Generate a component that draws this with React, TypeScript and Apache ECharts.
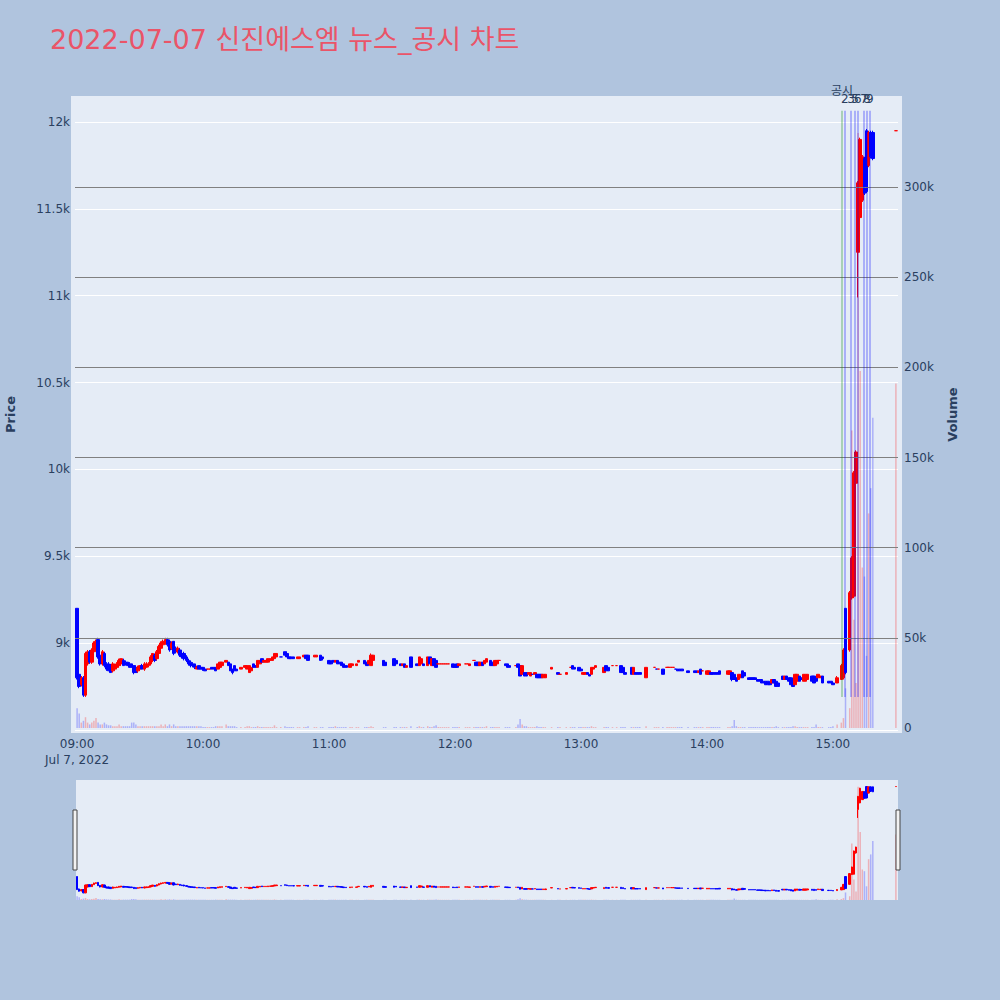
import React, { useEffect, useRef } from 'react';
import * as echarts from 'echarts';

const TITLE = '2022-07-07 신진에스엠 뉴스_공시 차트';
const DAY_LABEL = 'Jul 7, 2022';
const FONT = '"DejaVu Sans", "Noto Sans CJK KR", sans-serif';

const COLORS = {
  PAPER: '#b0c4de',
  PLOT: '#e5ecf6',
  TEXT: '#2a3f5f',
  TITLE: '#ea5468',
  UP: '#ff0000',
  DOWN: '#0000ff',
  UP_VOL: 'rgba(255,0,0,0.25)',
  DOWN_VOL: 'rgba(0,0,255,0.25)',
  VOL_GRID: '#808080',
};

// 1-minute candles (time, open, close, low, high, volume in thousands)
const TIMES = [
  '09:00', '09:01', '09:02', '09:03', '09:04', '09:05', '09:06', '09:07', '09:08', '09:09',
  '09:10', '09:11', '09:12', '09:13', '09:14', '09:15', '09:16', '09:17', '09:18', '09:19',
  '09:20', '09:21', '09:22', '09:23', '09:24', '09:25', '09:26', '09:27', '09:28', '09:29',
  '09:30', '09:31', '09:32', '09:33', '09:34', '09:35', '09:36', '09:37', '09:38', '09:39',
  '09:40', '09:41', '09:42', '09:43', '09:44', '09:45', '09:46', '09:47', '09:48', '09:49',
  '09:50', '09:51', '09:52', '09:53', '09:54', '09:55', '09:56', '09:57', '09:58', '09:59',
  '10:00', '10:01', '10:02', '10:03', '10:04', '10:05', '10:06', '10:07', '10:08', '10:09',
  '10:11', '10:12', '10:13', '10:14', '10:15', '10:16', '10:18', '10:20', '10:21', '10:22',
  '10:23', '10:24', '10:25', '10:26', '10:27', '10:28', '10:29', '10:30', '10:31', '10:32',
  '10:33', '10:34', '10:35', '10:37', '10:39', '10:40', '10:41', '10:42', '10:43', '10:45',
  '10:46', '10:48', '10:49', '10:50', '10:53', '10:54', '10:56', '10:57',
  '11:00', '11:01', '11:02', '11:03', '11:04', '11:05', '11:06', '11:07', '11:08', '11:10',
  '11:11', '11:13', '11:14', '11:17', '11:18', '11:19', '11:20', '11:21', '11:26', '11:27',
  '11:31', '11:32', '11:34', '11:35', '11:36', '11:37', '11:39', '11:42', '11:43', '11:44',
  '11:45', '11:47', '11:48', '11:49', '11:50', '11:51', '11:52', '11:53', '11:54', '11:55',
  '11:56', '11:57', '11:59',
  '12:00', '12:01', '12:02', '12:05', '12:06', '12:07', '12:09', '12:10', '12:11', '12:12',
  '12:13', '12:14', '12:15', '12:17', '12:18', '12:19', '12:20', '12:21', '12:24', '12:25',
  '12:26', '12:29', '12:30', '12:31', '12:32', '12:33', '12:34', '12:35', '12:36', '12:37',
  '12:38', '12:39', '12:40', '12:41', '12:42', '12:43', '12:46', '12:49', '12:50', '12:53',
  '12:55', '12:56', '12:57', '12:59',
  '13:00', '13:01', '13:02', '13:03', '13:04', '13:05', '13:06', '13:07', '13:11', '13:12',
  '13:13', '13:15', '13:17', '13:19', '13:20', '13:21', '13:24', '13:25', '13:26', '13:27',
  '13:28', '13:31', '13:35', '13:36', '13:37', '13:39', '13:41', '13:42', '13:43', '13:44',
  '13:45', '13:46', '13:47', '13:48', '13:51', '13:54', '13:55', '13:56', '13:57', '13:58',
  '14:00', '14:01', '14:02', '14:03', '14:04', '14:05', '14:06', '14:10', '14:11', '14:12',
  '14:13', '14:14', '14:15', '14:16', '14:17', '14:18', '14:20', '14:21', '14:22', '14:23',
  '14:24', '14:25', '14:26', '14:27', '14:28', '14:29', '14:30', '14:31', '14:32', '14:33',
  '14:34', '14:36', '14:37', '14:38', '14:39', '14:40', '14:41', '14:42', '14:43', '14:44',
  '14:45', '14:46', '14:47', '14:48', '14:50', '14:51', '14:52', '14:53', '14:54', '14:55',
  '14:58', '14:59',
  '15:00', '15:02', '15:04', '15:05', '15:06', '15:08', '15:09', '15:10', '15:11', '15:12',
  '15:13', '15:14', '15:15', '15:16', '15:17', '15:18', '15:19', '15:30',
];

const OPEN = [
  9200, 8820, 8760, 8800, 8700, 8880, 8950, 8890, 8950, 8990,
  9020, 8930, 8880, 8940, 8880, 8880, 8870, 8840, 8850, 8860,
  8870, 8880, 8900, 8890, 8890, 8880, 8880, 8870, 8860, 8840,
  8850, 8870, 8850, 8860, 8870, 8880, 8900, 8930, 8910, 8940,
  8970, 8990, 9000, 9020, 9010, 8970, 9010, 8970, 8950, 8960,
  8940, 8940, 8920, 8900, 8890, 8880, 8880, 8850, 8870, 8860,
  8860, 8850, 8850, 8850, 8860, 8860, 8860, 8850, 8860, 8870,
  8890, 8890, 8880, 8850, 8870, 8850, 8850, 8860, 8850, 8830,
  8840, 8880, 8870, 8860, 8880, 8910, 8890, 8890, 8890, 8900,
  8900, 8910, 8920, 8920, 8950, 8940, 8920, 8920, 8920, 8910,
  8910, 8920, 8930, 8930, 8920, 8920, 8930, 8920,
  8900, 8890, 8900, 8890, 8900, 8890, 8890, 8880, 8870, 8860,
  8870, 8870, 8890, 8900, 8890, 8880, 8870, 8900, 8900, 8890,
  8910, 8900, 8880, 8870, 8880, 8860, 8920, 8880, 8870, 8880,
  8880, 8870, 8920, 8870, 8910, 8900, 8880, 8880, 8880, 8880,
  8880, 8880, 8880,
  8870, 8880, 8870, 8880, 8880, 8870, 8900, 8890, 8890, 8870,
  8890, 8880, 8890, 8900, 8890, 8870, 8880, 8900, 8880, 8880,
  8870, 8870, 8880, 8870, 8820, 8830, 8830, 8820, 8810, 8820,
  8820, 8820, 8820, 8820, 8800, 8800, 8850, 8830, 8820, 8820,
  8860, 8870, 8860, 8860,
  8850, 8820, 8820, 8830, 8820, 8820, 8850, 8860, 8830, 8870,
  8860, 8870, 8870, 8870, 8860, 8830, 8860, 8820, 8830, 8830,
  8830, 8800, 8860, 8850, 8850, 8850, 8860, 8860, 8860, 8860,
  8850, 8850, 8850, 8850, 8840, 8840, 8840, 8830, 8850, 8840,
  8820, 8820, 8830, 8830, 8830, 8830, 8840, 8820, 8820, 8830,
  8820, 8800, 8790, 8800, 8840, 8830, 8800, 8800, 8800, 8800,
  8790, 8790, 8790, 8780, 8780, 8780, 8770, 8770, 8790, 8780,
  8770, 8810, 8790, 8810, 8800, 8800, 8790, 8760, 8780, 8810,
  8800, 8780, 8780, 8790, 8810, 8810, 8800, 8800, 8800, 8810,
  8780, 8780,
  8770, 8770, 8790, 8800, 9200, 8960, 9260, 9270, 9920, 11250,
  11450, 11550, 11790, 11950, 11750, 11940, 11940, 11950,
];

const CLOSE = [
  8800, 8750, 8800, 8700, 8940, 8950, 8890, 8960, 9000, 9010,
  8920, 8880, 8950, 8870, 8850, 8840, 8830, 8880, 8870, 8880,
  8900, 8910, 8870, 8880, 8870, 8860, 8860, 8830, 8830, 8860,
  8870, 8850, 8880, 8880, 8880, 8920, 8940, 8900, 8950, 8980,
  9000, 9010, 9020, 8990, 8960, 9000, 8940, 8950, 8970, 8930,
  8920, 8910, 8900, 8880, 8870, 8870, 8860, 8860, 8850, 8850,
  8850, 8840, 8850, 8850, 8850, 8850, 8840, 8880, 8890, 8890,
  8900, 8870, 8840, 8830, 8840, 8840, 8860, 8870, 8870, 8870,
  8860, 8860, 8860, 8900, 8900, 8890, 8900, 8900, 8910, 8910,
  8920, 8940, 8940, 8920, 8930, 8920, 8910, 8910, 8910, 8920,
  8920, 8930, 8910, 8900, 8930, 8930, 8900, 8910,
  8880, 8880, 8890, 8900, 8880, 8880, 8870, 8860, 8860, 8880,
  8880, 8880, 8900, 8880, 8870, 8900, 8930, 8930, 8870, 8870,
  8870, 8880, 8870, 8880, 8860, 8870, 8860, 8870, 8920, 8910,
  8870, 8920, 8880, 8910, 8870, 8860, 8880, 8880, 8880, 8880,
  8880, 8880, 8860,
  8860, 8860, 8880, 8880, 8880, 8880, 8900, 8870, 8870, 8890,
  8870, 8900, 8910, 8870, 8870, 8900, 8900, 8900, 8870, 8860,
  8860, 8870, 8860, 8810, 8870, 8810, 8810, 8830, 8830, 8820,
  8830, 8800, 8800, 8800, 8820, 8820, 8860, 8820, 8820, 8830,
  8860, 8850, 8850, 8840,
  8840, 8830, 8830, 8820, 8810, 8860, 8860, 8870, 8860, 8840,
  8840, 8870, 8870, 8830, 8830, 8820, 8820, 8860, 8820, 8820,
  8820, 8860, 8860, 8850, 8850, 8820, 8860, 8860, 8860, 8860,
  8850, 8840, 8840, 8840, 8830, 8830, 8830, 8840, 8820, 8840,
  8840, 8840, 8820, 8820, 8820, 8820, 8820, 8840, 8840, 8790,
  8790, 8780, 8820, 8820, 8800, 8810, 8790, 8790, 8790, 8790,
  8780, 8780, 8770, 8770, 8760, 8760, 8760, 8790, 8770, 8750,
  8750, 8790, 8810, 8790, 8780, 8760, 8750, 8820, 8820, 8780,
  8790, 8820, 8820, 8820, 8780, 8770, 8780, 8820, 8810, 8770,
  8770, 8770,
  8760, 8800, 8870, 8960, 8830, 9290, 9490, 9980, 10100, 11650,
  11900, 11800, 11590, 11600, 11940, 11800, 11790, 11950,
];

const LOW = [
  8790, 8740, 8750, 8690, 8690, 8870, 8880, 8880, 8940, 8980,
  8910, 8870, 8870, 8860, 8840, 8840, 8830, 8830, 8850, 8850,
  8860, 8870, 8870, 8870, 8870, 8860, 8860, 8820, 8830, 8830,
  8840, 8850, 8840, 8860, 8860, 8870, 8890, 8890, 8900, 8930,
  8960, 8980, 8990, 8980, 8950, 8960, 8930, 8940, 8940, 8920,
  8910, 8900, 8890, 8870, 8860, 8860, 8850, 8850, 8850, 8850,
  8840, 8840, 8850, 8850, 8850, 8850, 8840, 8850, 8860, 8870,
  8890, 8870, 8840, 8820, 8840, 8840, 8850, 8860, 8850, 8830,
  8840, 8860, 8860, 8860, 8880, 8890, 8890, 8890, 8890, 8900,
  8900, 8910, 8920, 8920, 8930, 8920, 8910, 8910, 8910, 8910,
  8910, 8920, 8910, 8900, 8920, 8920, 8900, 8900,
  8880, 8880, 8890, 8890, 8880, 8880, 8870, 8860, 8860, 8860,
  8870, 8870, 8890, 8880, 8870, 8880, 8870, 8900, 8870, 8870,
  8870, 8880, 8870, 8870, 8860, 8860, 8860, 8870, 8870, 8880,
  8870, 8870, 8880, 8870, 8870, 8860, 8880, 8880, 8880, 8880,
  8880, 8880, 8860,
  8860, 8860, 8870, 8880, 8880, 8870, 8900, 8870, 8870, 8870,
  8870, 8880, 8890, 8870, 8870, 8870, 8880, 8900, 8870, 8860,
  8860, 8870, 8860, 8810, 8820, 8810, 8810, 8820, 8810, 8820,
  8820, 8800, 8800, 8800, 8800, 8800, 8850, 8820, 8820, 8820,
  8860, 8850, 8850, 8840,
  8840, 8820, 8820, 8820, 8810, 8820, 8850, 8860, 8830, 8840,
  8840, 8870, 8870, 8830, 8830, 8820, 8820, 8820, 8820, 8820,
  8820, 8800, 8860, 8850, 8850, 8820, 8860, 8860, 8860, 8860,
  8850, 8840, 8840, 8840, 8830, 8830, 8830, 8830, 8820, 8840,
  8820, 8820, 8820, 8820, 8820, 8820, 8820, 8820, 8820, 8780,
  8790, 8780, 8790, 8800, 8800, 8810, 8790, 8790, 8790, 8790,
  8780, 8780, 8770, 8770, 8760, 8760, 8760, 8770, 8770, 8750,
  8750, 8790, 8790, 8790, 8780, 8760, 8750, 8760, 8780, 8780,
  8790, 8780, 8780, 8790, 8780, 8770, 8780, 8800, 8800, 8770,
  8770, 8770,
  8760, 8770, 8790, 8790, 8820, 8950, 9250, 9260, 9900, 10990,
  11440, 11540, 11580, 11590, 11740, 11790, 11780, 11950,
];

const HIGH = [
  9200, 8830, 8810, 8810, 8950, 8960, 8960, 8970, 9010, 9020,
  9030, 8940, 8960, 8950, 8890, 8890, 8880, 8890, 8880, 8890,
  8910, 8910, 8910, 8900, 8890, 8890, 8880, 8870, 8870, 8870,
  8870, 8880, 8890, 8890, 8890, 8930, 8940, 8940, 8960, 8990,
  9010, 9020, 9030, 9030, 9020, 9010, 9010, 8980, 8980, 8970,
  8950, 8950, 8930, 8910, 8900, 8890, 8880, 8870, 8870, 8860,
  8860, 8850, 8850, 8850, 8860, 8860, 8860, 8880, 8890, 8890,
  8900, 8890, 8880, 8850, 8870, 8850, 8860, 8870, 8870, 8870,
  8860, 8880, 8870, 8900, 8900, 8910, 8900, 8900, 8910, 8910,
  8920, 8940, 8940, 8920, 8950, 8950, 8920, 8920, 8920, 8920,
  8920, 8930, 8930, 8930, 8930, 8930, 8930, 8920,
  8900, 8890, 8900, 8900, 8900, 8890, 8890, 8880, 8870, 8880,
  8880, 8880, 8900, 8900, 8890, 8900, 8940, 8930, 8900, 8890,
  8910, 8900, 8880, 8880, 8880, 8870, 8920, 8880, 8920, 8910,
  8880, 8920, 8920, 8910, 8910, 8900, 8880, 8880, 8880, 8880,
  8880, 8880, 8880,
  8870, 8880, 8880, 8880, 8880, 8880, 8900, 8890, 8890, 8890,
  8890, 8900, 8910, 8900, 8890, 8900, 8900, 8900, 8880, 8880,
  8870, 8870, 8880, 8870, 8870, 8830, 8830, 8830, 8830, 8820,
  8830, 8820, 8820, 8820, 8820, 8820, 8860, 8830, 8820, 8830,
  8860, 8870, 8860, 8860,
  8850, 8830, 8830, 8830, 8820, 8860, 8860, 8870, 8860, 8870,
  8860, 8870, 8870, 8870, 8860, 8830, 8860, 8860, 8830, 8830,
  8830, 8860, 8860, 8850, 8850, 8850, 8860, 8860, 8860, 8860,
  8850, 8850, 8850, 8850, 8840, 8840, 8840, 8840, 8850, 8840,
  8840, 8840, 8830, 8830, 8830, 8830, 8840, 8840, 8840, 8830,
  8820, 8800, 8820, 8820, 8840, 8830, 8800, 8800, 8800, 8800,
  8790, 8790, 8790, 8780, 8780, 8780, 8770, 8790, 8790, 8780,
  8770, 8810, 8810, 8810, 8800, 8800, 8790, 8820, 8820, 8810,
  8800, 8820, 8820, 8820, 8810, 8810, 8800, 8820, 8810, 8810,
  8780, 8780,
  8770, 8810, 8880, 8970, 9200, 9300, 9500, 9990, 10110, 11660,
  11910, 11810, 11800, 11960, 11950, 11950, 11950, 11950,
];

const VOLUME_K = [
  11, 8, 3, 4, 6, 3, 2, 3, 4, 5.5,
  3, 2, 2, 3, 2, 1.5, 1.5, 1, 1, 1,
  2, 1, 1, 1, 1, 1, 3, 3, 2, 1,
  1, 1, 1, 1, 1, 1, 1, 1, 1, 1,
  2, 1, 2, 1, 2, 1, 2, 1, 1, 1,
  1, 1, 1, 1, 1, 1, 1, 1, 1, 1,
  0.5, 0.5, 0.5, 0.5, 0.5, 0.5, 1, 1, 1, 1,
  2, 1, 1, 1, 1, 0.5, 0.5, 0.5, 1, 1,
  0.5, 0.5, 0.5, 1, 0.5, 0.5, 0.5, 0.5, 0.5, 0.5,
  0.5, 1.5, 0.5, 0.5, 1, 0.5, 0.5, 0.5, 0.5, 0.5,
  0.5, 0.5, 0.5, 1, 0.5, 0.5, 0.5, 0.5,
  0.5, 0.5, 0.5, 1, 0.5, 0.5, 0.5, 0.5, 0.5, 0.5,
  0.5, 0.5, 0.5, 0.5, 0.5, 0.5, 1, 0.5, 0.5, 0.5,
  0.5, 0.5, 0.5, 0.5, 0.5, 0.5, 1, 0.5, 1, 0.5,
  0.5, 1, 0.5, 0.5, 1, 1.5, 0.5, 0.5, 0.5, 0.5,
  0.5, 0.5, 0.5,
  0.5, 0.5, 0.5, 0.5, 0.5, 0.5, 0.5, 0.5, 0.5, 0.5,
  0.5, 0.5, 1, 0.5, 0.5, 0.5, 0.5, 0.5, 0.5, 0.5,
  0.5, 0.5, 2, 5, 2, 1, 1, 0.5, 0.5, 0.5,
  0.5, 1, 0.5, 0.5, 0.5, 0.5, 0.5, 0.5, 0.5, 0.5,
  0.5, 0.5, 0.5, 0.5,
  0.5, 0.5, 0.5, 0.5, 0.5, 1, 0.5, 0.5, 0.5, 0.5,
  0.5, 0.5, 0.5, 0.5, 0.5, 0.5, 0.5, 0.5, 0.5, 0.5,
  0.5, 1, 0.5, 0.5, 0.5, 0.5, 0.5, 0.5, 0.5, 0.5,
  0.5, 0.5, 0.5, 0.5, 0.5, 0.5, 0.5, 0.5, 0.5, 0.5,
  0.5, 0.5, 0.5, 0.5, 0.5, 0.5, 0.5, 0.5, 0.5, 1,
  4.5, 1, 0.5, 0.5, 0.5, 0.5, 0.5, 0.5, 0.5, 0.5,
  0.5, 0.5, 0.5, 0.5, 0.5, 0.5, 0.5, 0.5, 0.5, 1,
  0.5, 0.5, 0.5, 0.5, 0.5, 0.5, 1, 1, 0.5, 0.5,
  0.5, 0.5, 0.5, 0.5, 0.5, 0.5, 2, 0.5, 0.5, 0.5,
  0.5, 0.5,
  1, 2, 3, 5.5, 22, 11, 165, 60, 25, 330,
  198, 89, 84, 40, 119, 133, 172, 191,
];

// news / disclosure markers
const NEWS_TIMES = ['15:04:18', '15:05:42', '15:08:36', '15:10:30', '15:11:54', '15:14:48', '15:16:12', '15:17:36'];
const NEWS_LABELS = ['공시', '2', '3', '5', '6', '7', '8', '9'];
const NEWS_KINDS = ['disclosure', 'news', 'news', 'news', 'news', 'news', 'news', 'news'];
const NEWS_RANGE = [8690, 12065];

const X_TICKS = [0, 60, 120, 180, 240, 300, 360];
const PRICE_RANGE = [8482, 12150];
const VOLUME_RANGE = [-2770, 350460];
const VOLUME_GRID = [50000, 100000, 150000, 200000, 250000, 300000];

const toMinute = (t: string) => {
  const [h, m, s] = t.split(':').map(Number);
  return (h - 9) * 60 + m + (s || 0) / 60;
};
const pad = (n: number) => String(n).padStart(2, '0');

const candles = TIMES.map((t, i) => [toMinute(t), OPEN[i], CLOSE[i], LOW[i], HIGH[i]]);
const volumes = TIMES.map((t, i) => ({
  value: [toMinute(t), VOLUME_K[i] * 1000],
  itemStyle: { color: CLOSE[i] >= OPEN[i] ? COLORS.UP_VOL : COLORS.DOWN_VOL },
}));

const newsLines = NEWS_TIMES.map((t, i) => {
  const x = toMinute(t);
  const green = NEWS_KINDS[i] === 'disclosure';
  return [
    {
      coord: [x, NEWS_RANGE[0]],
      lineStyle: { color: green ? 'rgba(0,128,0,0.35)' : 'rgba(0,0,255,0.35)', width: 1.5, type: 'solid' },
      label: {
        show: true,
        position: 'end',
        formatter: NEWS_LABELS[i],
        distance: green ? 14 : 6,
        color: COLORS.TEXT,
        fontSize: 12,
        fontFamily: FONT,
      },
    },
    { coord: [x, NEWS_RANGE[1]] },
  ];
});

const xLabel = (v: number) => {
  const h = 9 + Math.floor(v / 60);
  const s = `${pad(h)}:${pad(v % 60)}`;
  return v === 0 ? `${s}\n${DAY_LABEL}` : s;
};
const priceLabel = (v: number) => (v % 500 === 0 && v >= 9000 && v <= 12000 ? `${v / 1000}k` : '');
const volumeLabel = (v: number) => {
  if (v === 0) return '0';
  return v % 50000 === 0 && v > 0 && v <= 300000 ? `${v / 1000}k` : '';
};

const MAIN = { left: 75, top: 96, width: 823, height: 637 };
const MINI = { left: 75, top: 780, width: 823, height: 120 };

const option: any = {
  animation: false,
  backgroundColor: COLORS.PAPER,
  textStyle: { fontFamily: FONT },
  title: {
    text: TITLE,
    left: 50,
    top: 26,
    padding: 0,
    textStyle: { color: COLORS.TITLE, fontSize: 27, fontWeight: 'normal', fontFamily: FONT },
  },
  graphic: [
    { type: 'rect', z: -10, silent: true, shape: { x: 71, y: 96, width: 831, height: 637 }, style: { fill: COLORS.PLOT } },
    { type: 'rect', z: -10, silent: true, shape: { x: 76, y: 780, width: 822, height: 120 }, style: { fill: COLORS.PLOT } },
    { type: 'rect', z: 50, silent: true, shape: { x: 73, y: 810, width: 4, height: 60 }, style: { fill: '#f2f2f2', stroke: '#444', lineWidth: 1 } },
    { type: 'rect', z: 50, silent: true, shape: { x: 896, y: 810, width: 4, height: 60 }, style: { fill: '#f2f2f2', stroke: '#444', lineWidth: 1 } },
  ],
  grid: [
    { ...MAIN, show: false, containLabel: false, outerBoundsMode: 'none' },
    { ...MINI, show: false, containLabel: false, outerBoundsMode: 'none' },
  ],
  xAxis: [
    {
      type: 'value',
      gridIndex: 0,
      min: -1,
      max: 391,
      axisLine: { show: false },
      axisTick: { show: false },
      splitLine: { show: false },
      axisLabel: {
        customValues: X_TICKS,
        formatter: xLabel,
        color: COLORS.TEXT,
        fontSize: 12,
        fontFamily: FONT,
        margin: 3,
        lineHeight: 16,
      },
    },
    { type: 'value', gridIndex: 1, min: -1, max: 391, show: false },
  ],
  yAxis: [
    {
      type: 'value',
      gridIndex: 0,
      position: 'left',
      min: PRICE_RANGE[0],
      max: PRICE_RANGE[1],
      splitNumber: 8,
      name: 'Price',
      nameLocation: 'middle',
      nameRotate: 90,
      nameGap: 58,
      nameTextStyle: { color: COLORS.TEXT, fontSize: 13, fontWeight: 'bold', fontFamily: FONT },
      axisLine: { show: false },
      axisTick: { show: false },
      axisLabel: { formatter: priceLabel, color: COLORS.TEXT, fontSize: 12, fontFamily: FONT, margin: 5 },
      splitLine: { show: true, showMinLine: false, showMaxLine: false, lineStyle: { color: '#ffffff', width: 1 } },
    },
    {
      type: 'value',
      gridIndex: 0,
      position: 'right',
      min: VOLUME_RANGE[0],
      max: VOLUME_RANGE[1],
      splitNumber: 7,
      name: 'Volume',
      nameLocation: 'middle',
      nameRotate: 90,
      nameGap: 48,
      nameTextStyle: { color: COLORS.TEXT, fontSize: 13, fontWeight: 'bold', fontFamily: FONT },
      axisLine: { show: false },
      axisTick: { show: false },
      axisLabel: { formatter: volumeLabel, color: COLORS.TEXT, fontSize: 12, fontFamily: FONT, margin: 6 },
      splitLine: { show: false },
    },
    { type: 'value', gridIndex: 1, min: PRICE_RANGE[0], max: PRICE_RANGE[1], show: false },
    { type: 'value', gridIndex: 1, min: 0, max: 350000, show: false },
  ],
  series: [
    {
      type: 'bar',
      xAxisIndex: 0,
      yAxisIndex: 1,
      barWidth: 1.5,
      data: volumes,
      markLine: {
        silent: true,
        symbol: ['none', 'none'],
        label: { show: false },
        lineStyle: { color: COLORS.VOL_GRID, width: 1, type: 'solid' },
        data: VOLUME_GRID.map((v) => ({ yAxis: v })),
      },
    },
    {
      type: 'candlestick',
      xAxisIndex: 0,
      yAxisIndex: 0,
      barWidth: 3,
      clip: false,
      dimensions: ['time', 'open', 'close', 'lowest', 'highest'],
      encode: { x: 'time', y: ['open', 'close', 'lowest', 'highest'] },
      data: candles,
      itemStyle: {
        color: COLORS.UP,
        color0: COLORS.DOWN,
        borderColor: COLORS.UP,
        borderColor0: COLORS.DOWN,
        borderWidth: 1,
      },
      markLine: {
        silent: true,
        symbol: ['none', 'none'],
        data: newsLines,
      },
    },
    {
      type: 'bar',
      xAxisIndex: 1,
      yAxisIndex: 3,
      barWidth: 1.5,
      data: volumes,
    },
    {
      type: 'candlestick',
      xAxisIndex: 1,
      yAxisIndex: 2,
      barWidth: 2,
      clip: false,
      dimensions: ['time', 'open', 'close', 'lowest', 'highest'],
      encode: { x: 'time', y: ['open', 'close', 'lowest', 'highest'] },
      data: candles,
      itemStyle: {
        color: COLORS.UP,
        color0: COLORS.DOWN,
        borderColor: COLORS.UP,
        borderColor0: COLORS.DOWN,
        borderWidth: 1,
      },
    },
  ],
};

const App: React.FC = () => {
  const divEL = useRef<HTMLDivElement>(null);

  useEffect(() => {
    document.body.style.margin = '0';
    const instance = echarts.init(divEL.current as any, null, { renderer: 'svg' });
    instance.setOption(option);
    return () => {
      instance.dispose();
    };
  }, []);

  return <div ref={divEL} style={{ width: 1000, height: 1000 }}></div>;
};

export default App;
